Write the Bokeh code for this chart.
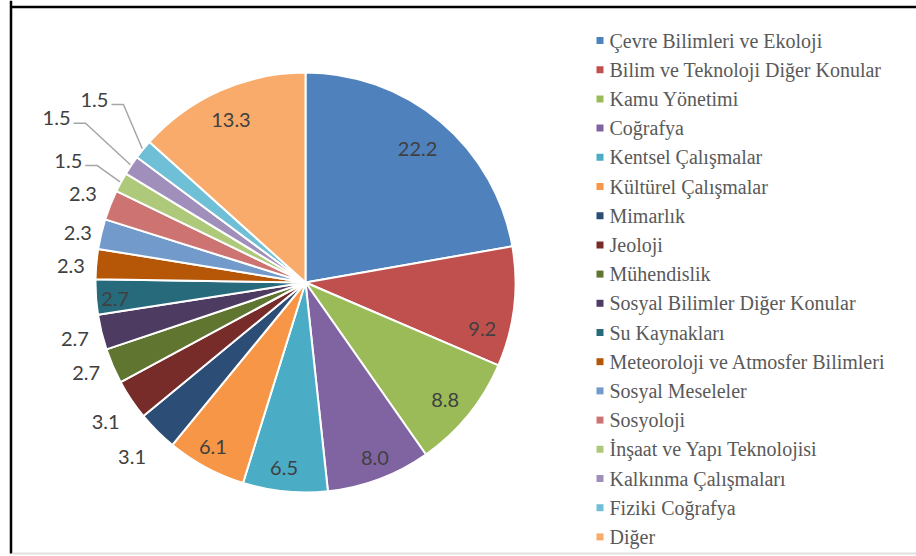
import math
from bokeh.plotting import figure
from bokeh.models import Range1d, ColumnDataSource
from bokeh.core.properties import value
from bokeh.embed import file_html
from bokeh.resources import INLINE

# ---- data ----
categories = [
    "Çevre Bilimleri ve Ekoloji",
    "Bilim ve Teknoloji Diğer Konular",
    "Kamu Yönetimi",
    "Coğrafya",
    "Kentsel Çalışmalar",
    "Kültürel Çalışmalar",
    "Mimarlık",
    "Jeoloji",
    "Mühendislik",
    "Sosyal Bilimler Diğer Konular",
    "Su Kaynakları",
    "Meteoroloji ve Atmosfer Bilimleri",
    "Sosyal Meseleler",
    "Sosyoloji",
    "İnşaat ve Yapı Teknolojisi",
    "Kalkınma Çalışmaları",
    "Fiziki Coğrafya",
    "Diğer",
]
values = [22.2, 9.2, 8.8, 8.0, 6.5, 6.1, 3.1, 3.1, 2.7, 2.7, 2.7, 2.3, 2.3, 2.3, 1.5, 1.5, 1.5, 13.3]
colors = [
    "#4F81BD", "#C0504D", "#9BBB59", "#8064A2", "#4BACC6", "#F79646",
    "#2C4D75", "#772C2A", "#5F7530", "#4D3B62", "#276A7C", "#B65708",
    "#729ACA", "#CD7371", "#AFC97A", "#A08EBB", "#6FC0D7", "#F9AB6B",
]

# ---- layout / style ----
W, H = 916, 556
CX, CY, R = 305, 274, 210
label_r = [0.83, 0.87, 0.87, 0.90, 0.89, 0.90, 1.17, 1.16, 1.13, 1.13, 0.91,
           1.12, 1.11, 1.14, 1.27, 1.42, 1.33, 0.85]
label_dang = [0, 8, 1, -1, 1, 1, 0, -1, 1, 0, -1, -1, -1, 0, -1.3, -0.5, 1.6, -0.7]
leader = [False] * 14 + [True] * 3 + [False]

p = figure(width=W, height=H, output_backend="svg", toolbar_location=None,
           x_range=Range1d(0, W), y_range=Range1d(0, H),
           x_axis_location=None, y_axis_location=None, min_border=0)
p.grid.visible = False
p.outline_line_color = None
p.background_fill_color = "white"

total = sum(values)
starts, ends, lx, ly, txt = [], [], [], [], []
lead_xs, lead_ys = [], []
cum = 0.0
for i, v in enumerate(values):
    a0 = cum / total * 360.0
    a1 = (cum + v) / total * 360.0
    cum += v
    starts.append(math.radians(90 - a1))
    ends.append(math.radians(90 - a0))
    mid = (a0 + a1) / 2
    la = math.radians(mid + label_dang[i])
    x = CX + R * label_r[i] * math.sin(la)
    y = CY + R * label_r[i] * math.cos(la)
    lx.append(x)
    ly.append(y)
    txt.append(f"{v:.1f}")
    if leader[i]:
        m = math.radians(mid)
        ex = CX + (R + 1) * math.sin(m)
        ey = CY + (R + 1) * math.cos(m)
        sx = x + 17
        sy = y - 5
        lead_xs.append([sx, sx + 12, ex])
        lead_ys.append([sy, sy, ey])

src = ColumnDataSource(dict(start=starts, end=ends, color=colors))
p.wedge(x=CX, y=CY, radius=R, start_angle="start", end_angle="end",
        fill_color="color", line_color="white", line_width=2, source=src)

p.multi_line(xs=lead_xs, ys=lead_ys, line_color="#A6A6A6", line_width=1.5)

p.text(x=lx, y=ly, text=txt, text_font=value("Lato"), text_font_size="20px",
       text_color="#404040", text_align="center", text_baseline="middle")

# legend
leg_y = [516 - i * 29.2 for i in range(len(categories))]
p.scatter(x=[599.5] * len(categories), y=leg_y, marker="square", size=7,
          fill_color=colors, line_color=None)
p.text(x=[609] * len(categories), y=leg_y, text=categories,
       text_font=value("Liberation Serif"), text_font_size="20px",
       text_color="#595959", text_align="left", text_baseline="middle")

# frame lines
p.line(x=[10.5, 10.5], y=[3, 556], line_color="black", line_width=2.5)
p.line(x=[10.5, 916], y=[549.5, 549.5], line_color="black", line_width=2.5)
p.line(x=[12, 916], y=[3, 3], line_color="#E0E0E0", line_width=2)

open("out.html", "w").write(file_html(p, INLINE))
